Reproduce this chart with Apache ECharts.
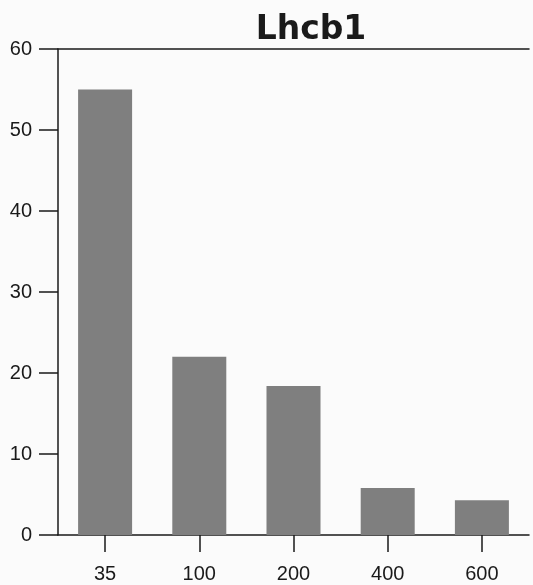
<!DOCTYPE html>
<html>
<head>
<meta charset="utf-8">
<script src="https://cdn.jsdelivr.net/npm/echarts@6/dist/echarts.min.js"></script>
<style>
html,body{margin:0;padding:0;background:#fbfbfb;}
#chart{width:533px;height:585px;}
</style>
</head>
<body>
<div id="chart"></div>
<script>
const titleText = 'Lhcb1';
const categories = ['35', '100', '200', '400', '600'];
const values = [55, 22, 18.4, 5.8, 4.3];
const yTicks = [0, 10, 20, 30, 40, 50, 60];

const chart = echarts.init(document.getElementById('chart'), null, {renderer: 'canvas'});
const axisColor = '#1a1a1a';
const labelFont = {color: '#1a1a1a', fontSize: 20, fontFamily: 'Liberation Sans, Arial, sans-serif'};

chart.setOption({
  backgroundColor: '#fbfbfb',
  animation: false,
  title: {
    text: titleText,
    left: 306,
    textAlign: 'center',
    top: 9,
    textStyle: {fontSize: 33, fontWeight: 'bold', color: '#1a1a1a', fontFamily: 'DejaVu Sans, sans-serif'}
  },
  grid: {left: 58, right: 4, top: 49, bottom: 50, containLabel: false},
  xAxis: [{
    type: 'category',
    data: categories,
    position: 'bottom',
    axisLine: {show: true, lineStyle: {color: axisColor, width: 1.5}},
    axisTick: {show: true, alignWithLabel: true, length: 17, lineStyle: {color: axisColor, width: 1.5}},
    axisLabel: Object.assign({margin: 29}, labelFont),
    splitLine: {show: false}
  }, {
    type: 'category',
    data: categories,
    position: 'top',
    axisLine: {show: true, lineStyle: {color: axisColor, width: 1.5}},
    axisTick: {show: false},
    axisLabel: {show: false}
  }],
  yAxis: {
    type: 'value',
    min: yTicks[0],
    max: yTicks[yTicks.length - 1],
    interval: 10,
    axisLine: {show: true, lineStyle: {color: axisColor, width: 1.5}},
    axisTick: {show: true, length: 19, lineStyle: {color: axisColor, width: 1.5}},
    axisLabel: Object.assign({margin: 26}, labelFont),
    splitLine: {show: false}
  },
  series: [{
    type: 'bar',
    xAxisIndex: 0,
    data: values,
    barWidth: 54,
    itemStyle: {color: '#7f7f7f'}
  }]
});
</script>
</body>
</html>
